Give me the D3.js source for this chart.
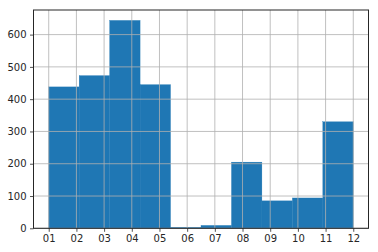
<!DOCTYPE html>
<html><head><meta charset="utf-8">
<script src="https://cdn.jsdelivr.net/npm/d3@7"></script>
<style>
html,body{margin:0;padding:0;background:#fff;}
svg{display:block;}
text{font-family:"DejaVu Sans",sans-serif;}
</style></head>
<body>
<svg id="c" width="378" height="252"></svg>
<script>
// Month categories (x tick labels)
const categories = ["01","02","03","04","05","06","07","08","09","10","11","12"];
// Histogram counts for 10 equal bins spanning the category positions 0..11
const binCounts = [438, 473, 644, 445, 3, 9, 205, 85, 94, 330];
// Y tick values
const yTicks = [0, 100, 200, 300, 400, 500, 600];

const W = 378, H = 252;
const m = {left: 33.5, right: 9.5, top: 10, bottom: 23.7};
const svg = d3.select("#c");

const nBins = binCounts.length;
const lo = 0, hi = categories.length - 1;
const step = (hi - lo) / nBins;
const bins = binCounts.map((c, i) => ({x0: lo + i * step, x1: lo + (i + 1) * step, count: c}));

const pad = (hi - lo) * 0.05;
const x = d3.scaleLinear().domain([lo - pad, hi + pad]).range([m.left, W - m.right]);
const ymax = d3.max(binCounts) * 1.05;
const y = d3.scaleLinear().domain([0, ymax]).range([H - m.bottom, m.top]);

// bars
svg.append("g").selectAll("rect").data(bins).join("rect")
  .attr("x", d => x(d.x0))
  .attr("width", d => x(d.x1) - x(d.x0))
  .attr("y", d => y(d.count))
  .attr("height", d => y(0) - y(d.count))
  .attr("fill", "#1f77b4")
  .attr("stroke", "#1f77b4").attr("stroke-width", 0.3);

// grid
const grid = svg.append("g").attr("stroke", "#b0b0b0").attr("stroke-width", 0.8);
grid.selectAll("line.v").data(categories.map((c, i) => i)).join("line")
  .attr("x1", d => x(d)).attr("x2", d => x(d))
  .attr("y1", m.top).attr("y2", H - m.bottom);
grid.selectAll("line.h").data(yTicks).join("line")
  .attr("y1", d => y(d)).attr("y2", d => y(d))
  .attr("x1", m.left).attr("x2", W - m.right);

// axes
const xAxis = d3.axisBottom(x).tickValues(categories.map((c, i) => i))
  .tickFormat(i => categories[i]).tickSize(3.5).tickPadding(3.5);
const yAxis = d3.axisLeft(y).tickValues(yTicks).tickSize(3.5).tickPadding(3.5);

const gx = svg.append("g").attr("transform", `translate(0,${H - m.bottom})`).call(xAxis);
const gy = svg.append("g").attr("transform", `translate(${m.left},0)`).call(yAxis);
[gx, gy].forEach(g => {
  g.select(".domain").remove();
  g.selectAll(".tick line").attr("stroke", "#262626").attr("stroke-width", 0.8);
  g.selectAll(".tick text").attr("fill", "#262626").attr("font-size", 10)
    .attr("font-family", "DejaVu Sans");
});

// spines
svg.append("rect")
  .attr("x", m.left).attr("y", m.top)
  .attr("width", W - m.right - m.left).attr("height", H - m.bottom - m.top)
  .attr("fill", "none").attr("stroke", "#262626").attr("stroke-width", 1);
</script>
</body></html>
